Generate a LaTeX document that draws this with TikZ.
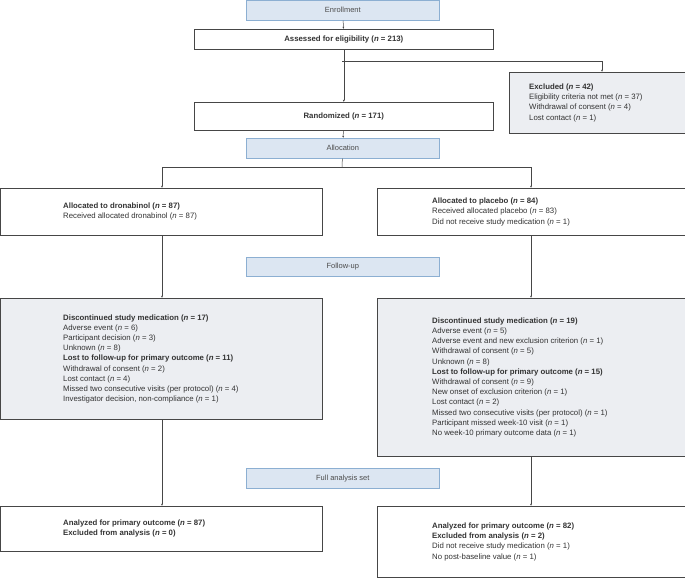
\documentclass[tikz,border=0pt]{standalone}
\usepackage{fontspec}
\setmainfont{Liberation Sans}
\definecolor{stageFill}{RGB}{220,230,242}
\definecolor{stageDraw}{RGB}{140,175,210}
\definecolor{noteFill}{RGB}{236,238,242}
\definecolor{lineGray}{RGB}{70,70,70}
\newcommand{\nn}[1]{(\textit{n} = #1)}
\tikzset{
  box/.style={draw=lineGray,fill=white,anchor=north west,inner sep=0pt,line width=0.6pt},
  stage/.style={box,draw=stageDraw,fill=stageFill,font=\fontsize{7.5}{9}\selectfont,text=black!70},
  note/.style={box,fill=noteFill},
  txt/.style={anchor=west,align=left,inner sep=0pt,font=\fontsize{7.8}{10.2}\selectfont,text=black!80},
  ctxt/.style={txt,anchor=center,align=center},
  link/.style={draw=lineGray,line width=0.5pt,-{Latex[length=2.2pt,width=2pt]}}
}
\usetikzlibrary{arrows.meta}
\begin{document}
\begin{tikzpicture}[x=1pt,y=-1pt]
  \useasboundingbox (0,0) rectangle (685,578);
  % stages
  \node[stage,minimum width=193pt,minimum height=20pt] (enroll) at (246,0) {Enrollment};
  \node[stage,minimum width=193pt,minimum height=20pt] (alloc) at (246,138) {Allocation};
  \node[stage,minimum width=193pt,minimum height=19pt] (follow) at (246,257) {Follow-up};
  \node[stage,minimum width=193pt,minimum height=20pt] (full) at (246,468) {Full analysis set};
  % boxes
  \node[box,minimum width=299pt,minimum height=20pt] (assess) at (194,29) {};
  \node[ctxt] (assessT) at (assess.center) {\textbf{Assessed for eligibility \nn{213}}};
  \node[note,minimum width=176pt,minimum height=61pt] (excl) at (509,72) {};
  \node[txt] (exclT) at ([xshift=20pt]excl.west) {\textbf{Excluded \nn{42}}\\Eligibility criteria not met \nn{37}\\Withdrawal of consent \nn{4}\\Lost contact \nn{1}};
  \node[box,minimum width=299pt,minimum height=28pt] (rand) at (194,102) {};
  \node[ctxt] (randT) at (rand.center) {\textbf{Randomized \nn{171}}};
  \node[box,minimum width=322pt,minimum height=47pt] (dronA) at (0,188) {};
  \node[txt] (dronAT) at ([xshift=63pt]dronA.west) {\textbf{Allocated to dronabinol \nn{87}}\\Received allocated dronabinol \nn{87}};
  \node[box,minimum width=308pt,minimum height=47pt] (placA) at (377,188) {};
  \node[txt] (placAT) at ([xshift=55pt]placA.west) {\textbf{Allocated to placebo \nn{84}}\\Received allocated placebo \nn{83}\\Did not receive study medication \nn{1}};
  \node[note,minimum width=322pt,minimum height=121pt] (dronF) at (0,298) {};
  \node[txt] (dronFT) at ([xshift=63pt]dronF.west) {\textbf{Discontinued study medication \nn{17}}\\Adverse event \nn{6}\\Participant decision \nn{3}\\Unknown \nn{8}\\\textbf{Lost to follow-up for primary outcome \nn{11}}\\Withdrawal of consent \nn{2}\\Lost contact \nn{4}\\Missed two consecutive visits (per protocol) \nn{4}\\Investigator decision, non-compliance \nn{1}};
  \node[note,minimum width=308pt,minimum height=158pt] (placF) at (377,298) {};
  \node[txt] (placFT) at ([xshift=55pt]placF.west) {\textbf{Discontinued study medication \nn{19}}\\Adverse event \nn{5}\\Adverse event and new exclusion criterion \nn{1}\\Withdrawal of consent \nn{5}\\Unknown \nn{8}\\\textbf{Lost to follow-up for primary outcome \nn{15}}\\Withdrawal of consent \nn{9}\\New onset of exclusion criterion \nn{1}\\Lost contact \nn{2}\\Missed two consecutive visits (per protocol) \nn{1}\\Participant missed week-10 visit \nn{1}\\No week-10 primary outcome data \nn{1}};
  \node[box,minimum width=322pt,minimum height=45pt] (dronR) at (0,506) {};
  \node[txt] (dronRT) at ([xshift=63pt]dronR.west) {\textbf{Analyzed for primary outcome \nn{87}}\\\textbf{Excluded from analysis \nn{0}}};
  \node[box,minimum width=308pt,minimum height=71pt] (placR) at (377,506) {};
  \node[txt] (placRT) at ([xshift=55pt]placR.west) {\textbf{Analyzed for primary outcome \nn{82}}\\\textbf{Excluded from analysis \nn{2}}\\Did not receive study medication \nn{1}\\No post-baseline value \nn{1}};
  % connectors
  \coordinate (split) at (342,61);
  \coordinate (fork) at (342,167);
  \draw[link] (enroll) -- (assess);
  \draw[link] (assess) -- (rand);
  \draw[link] (split) -| (excl.north -| 602,0);
  \draw[link] (rand) -- (alloc);
  \draw[draw=lineGray,line width=0.5pt] (alloc) -- (fork);
  \draw[link] (fork) -| (dronA.north -| 162,0);
  \draw[link] (fork) -| (placA.north -| 531,0);
  \draw[link] (dronA.south -| 162,0) -- (dronF.north -| 162,0);
  \draw[link] (placA.south -| 531,0) -- (placF.north -| 531,0);
  \draw[link] (dronF.south -| 162,0) -- (dronR.north -| 162,0);
  \draw[link] (placF.south -| 531,0) -- (placR.north -| 531,0);
\end{tikzpicture}
\end{document}
